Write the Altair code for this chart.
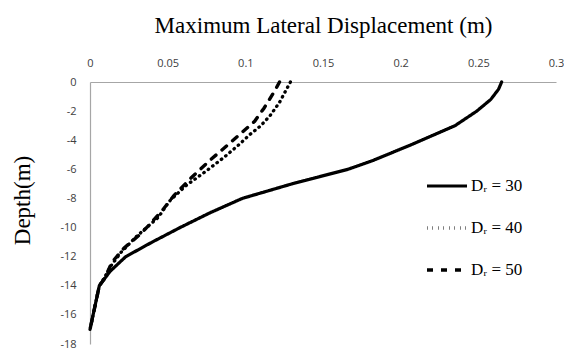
import altair as alt
import pandas as pd

# Dr = 30 (solid)
depth_30 = [0, -0.5, -1.2, -2, -3, -4.3, -5.4, -6, -7, -8, -9, -10, -11, -12, -13, -14, -15, -16, -17]
disp_30 = [0.265, 0.263, 0.258, 0.249, 0.235, 0.207, 0.182, 0.166, 0.130, 0.098, 0.077, 0.058, 0.040, 0.023, 0.013, 0.006, 0.004, 0.002, 0.0]

# Dr = 40 (dotted)
depth_40 = [0, -0.4, -1.4, -2.3, -3.0, -3.6, -4.3, -5.2, -6.1, -7.1, -8.2, -9.3, -10.6, -11.7, -12.7, -13.5, -14, -15, -16, -17]
disp_40 = [0.129, 0.127, 0.122, 0.116, 0.110, 0.103, 0.096, 0.086, 0.075, 0.062, 0.051, 0.044, 0.030, 0.020, 0.013, 0.009, 0.006, 0.004, 0.002, 0.0]

# Dr = 50 (dashed)
depth_50 = [0, -0.6, -1.8, -2.7, -4.2, -5.4, -6.6, -7.8, -8.9, -10.4, -11.4, -12.4, -13.4, -14, -15, -16, -17]
disp_50 = [0.122, 0.119, 0.112, 0.106, 0.090, 0.077, 0.065, 0.054, 0.046, 0.033, 0.022, 0.014, 0.010, 0.006, 0.004, 0.002, 0.0]

series_labels = ["Dᵣ = 30", "Dᵣ = 40", "Dᵣ = 50"]
x_ticks = [0, 0.05, 0.1, 0.15, 0.2, 0.25, 0.3]
y_ticks = [0, -2, -4, -6, -8, -10, -12, -14, -16, -18]

rows = []
for lab, ds, vs in zip(series_labels, [depth_30, depth_40, depth_50], [disp_30, disp_40, disp_50]):
    for i, (d, v) in enumerate(zip(ds, vs)):
        rows.append({"series": lab, "depth": d, "disp": v, "i": i})
df = pd.DataFrame(rows)

chart = alt.Chart(df).mark_line(color="black", strokeCap="round").encode(
    x=alt.X("disp:Q",
            scale=alt.Scale(domain=[0, 0.3], nice=False, zero=False),
            axis=alt.Axis(orient="top", values=x_ticks, format=".2~f",
                          title="Maximum Lateral Displacement (m)",
                          titleFont="Liberation Serif", titleFontSize=23, titleFontWeight="normal",
                          titleColor="black", titlePadding=20,
                          labelFont="Open Sans", labelFontSize=11, labelColor="#404040",
                          labelPadding=14, labelFlush=False, ticks=False, grid=False,
                          domainColor="#a6a6a6", domainWidth=1.2)),
    y=alt.Y("depth:Q",
            scale=alt.Scale(domain=[-18, 0], nice=False, zero=False),
            axis=alt.Axis(values=y_ticks, labelExpr="'' + datum.value",
                          title="Depth(m)",
                          titleFont="Liberation Serif", titleFontSize=23, titleFontWeight="normal",
                          titleColor="black", titleX=-68, titleY=118, titleAngle=-90,
                          titleBaseline="middle", titleAlign="center",
                          labelFont="Open Sans", labelFontSize=11, labelColor="#404040",
                          labelPadding=14, labelFlush=False, ticks=False, grid=False,
                          domainColor="#a6a6a6", domainWidth=1.2)),
    strokeDash=alt.StrokeDash("series:N",
                              scale=alt.Scale(domain=series_labels,
                                              range=[[1, 0], [0.5, 5], [6, 8]]),
                              legend=alt.Legend(title=None, orient="none", legendX=335, legendY=82,
                                                symbolType="stroke", symbolSize=1600,
                                                symbolStrokeWidth=3.2, symbolStrokeColor="black",
                                                labelFont="Liberation Serif", labelFontSize=17,
                                                labelColor="black", labelOffset=2, rowPadding=12)),
    strokeWidth=alt.StrokeWidth("series:N",
                                scale=alt.Scale(domain=series_labels, range=[3.2, 3.4, 3.4]),
                                legend=None),
    order="i:Q",
).properties(
    width=466, height=262,
    autosize=alt.AutoSizeParams(type="none"),
    padding={"left": 82, "top": 74, "right": 8, "bottom": 5},
).configure_view(stroke=None)

chart.save("out.html", embed_options={"renderer": "svg", "actions": False})
